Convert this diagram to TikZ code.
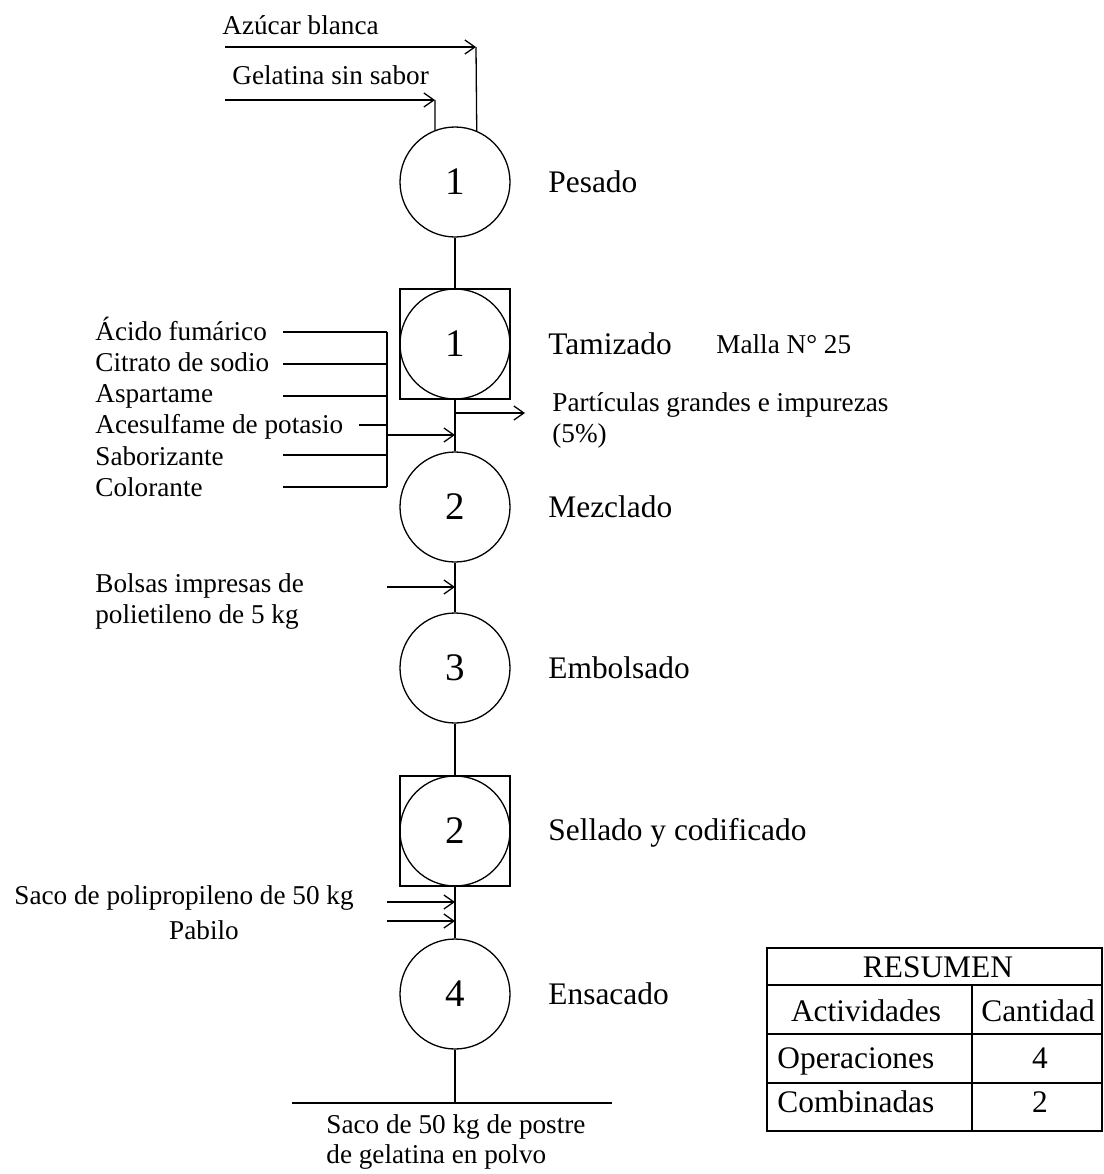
\documentclass[tikz,border=0pt]{standalone}
\usepackage{fontspec}
\setmainfont{Liberation Serif}
\usetikzlibrary{arrows.meta}
\begin{document}
\begin{tikzpicture}[x=0.5pt,y=-0.5pt,
  flow/.style={line width=0.65pt},
  arr/.style={flow,-{Straight Barb[length=5pt,width=7pt]}},
  op/.style={circle,draw,line width=0.65pt,minimum size=55pt,inner sep=0pt,
    font=\fontsize{19.5}{22}\selectfont},
  boxed/.style={rectangle,draw,line width=0.65pt,minimum size=55pt,inner sep=0pt},
  big/.style={font=\fontsize{15.7}{18}\selectfont,inner sep=0pt},
  small/.style={font=\fontsize{13.6}{15.5}\selectfont,inner sep=0pt},
  lbl/.style={anchor=base west},
]
\useasboundingbox (0,0) rectangle (1104,1174);

% process symbols
\node[op] (o1) at (455,182) {1};
\node[boxed] (c1box) at (455,344) {};
\node[op] (c1) at (455,344) {1};
\node[op] (o2) at (455,507) {2};
\node[op] (o3) at (455,668) {3};
\node[boxed] (c2box) at (455,831) {};
\node[op] (c2) at (455,831) {2};
\node[op] (o4) at (455,994) {4};

% process names
\node[big,lbl] (t1) at (548,192) {Pesado};
\node[big,lbl] (t2) at (548,354) {Tamizado};
\node[small,lbl] (malla) at (716,353) {Malla N° 25};
\node[big,lbl] (t3) at (548,517) {Mezclado};
\node[big,lbl] (t4) at (548,678) {Embolsado};
\node[big,lbl] (t5) at (548,840) {Sellado y codificado};
\node[big,lbl] (t6) at (548,1004) {Ensacado};

% main flow line
\draw[flow] (o1.south) -- (c1box.north);
\draw[flow] (c1box.south) -- (o2.north);
\draw[flow] (o2.south) -- (o3.north);
\draw[flow] (o3.south) -- (c2box.north);
\draw[flow] (c2box.south) -- (o4.north);
\coordinate (endp) at (455,1103);
\draw[flow] (o4.south) -- (endp);
\coordinate (baseL) at (292,1103);
\coordinate (baseR) at (612,1103);
\draw[flow] (baseL) -- (baseR);
\node[small,lbl] (prod1) at (326,1133) {Saco de 50 kg de postre};
\node[small,lbl] (prod2) at (326,1163) {de gelatina en polvo};

% raw materials for weighing
\node[small,lbl] (azucar) at (222,34) {Azúcar blanca};
\node[small,lbl] (gelat) at (232,84) {Gelatina sin sabor};
\coordinate (az0) at (225,47);
\coordinate (az1) at (476,47);
\draw[arr] (az0) -- (az1);
\draw[flow] (az1) -- (o1.67.6);
\coordinate (ge0) at (225,100);
\coordinate (ge1) at (435,100);
\draw[arr] (ge0) -- (ge1);
\draw[flow] (ge1) -- (o1.111.3);

% additives for mixing
\node[small,lbl] (a1) at (95,340) {Ácido fumárico};
\node[small,lbl] (a2) at (95,371) {Citrato de sodio};
\node[small,lbl] (a3) at (95,402) {Aspartame};
\node[small,lbl] (a4) at (95,433) {Acesulfame de potasio};
\node[small,lbl] (a5) at (95,465) {Saborizante};
\node[small,lbl] (a6) at (95,496) {Colorante};
\coordinate (h1) at (387,332);
\coordinate (h2) at (387,364);
\coordinate (h3) at (387,396);
\coordinate (h4) at (387,425);
\coordinate (h5) at (387,455);
\coordinate (h6) at (387,487);
\draw[flow] (283,332) -- (h1);
\draw[flow] (283,364) -- (h2);
\draw[flow] (283,396) -- (h3);
\draw[flow] (359,425) -- (h4);
\draw[flow] (283,455) -- (h5);
\draw[flow] (283,487) -- (h6);
\draw[flow] (h1) -- (h6);
\coordinate (mixin0) at (387,435);
\coordinate (mixin1) at (455,435);
\draw[arr] (mixin0) -- (mixin1);

% sieve rejects
\coordinate (rej0) at (455,413);
\coordinate (rej1) at (525,413);
\draw[arr] (rej0) -- (rej1);
\node[small,lbl] (r1) at (552,411) {Partículas grandes e impurezas};
\node[small,lbl] (r2) at (552,442) {(5\%)};

% bags
\node[small,lbl] (b1) at (95,592) {Bolsas impresas de};
\node[small,lbl] (b2) at (95,623) {polietileno de 5 kg};
\coordinate (bag0) at (387,587);
\coordinate (bag1) at (455,587);
\draw[arr] (bag0) -- (bag1);

% sacks and string
\node[small,lbl] (s1) at (14,904) {Saco de polipropileno de 50 kg};
\node[small,anchor=base] (s2) at (204,939) {Pabilo};
\coordinate (sk0) at (387,902);
\coordinate (sk1) at (455,902);
\draw[arr] (sk0) -- (sk1);
\coordinate (pb0) at (387,921);
\coordinate (pb1) at (455,921);
\draw[arr] (pb0) -- (pb1);

% summary table
\draw[flow] (767,948) rectangle (1102,1131);
\draw[flow] (767,985) -- (1102,985);
\draw[flow] (767,1034) -- (1102,1034);
\draw[flow] (767,1083) -- (1102,1083);
\draw[flow] (972,985) -- (972,1131);
\node[big,anchor=base] (res) at (938,977) {RESUMEN};
\node[big,anchor=base] (act) at (866,1021) {Actividades};
\node[big,anchor=base] (cant) at (1038,1021) {Cantidad};
\node[big,lbl] (ops) at (777,1068) {Operaciones};
\node[big,anchor=base] (n4) at (1040,1068) {4};
\node[big,lbl] (comb) at (777,1112) {Combinadas};
\node[big,anchor=base] (n2) at (1040,1112) {2};
\end{tikzpicture}
\end{document}
